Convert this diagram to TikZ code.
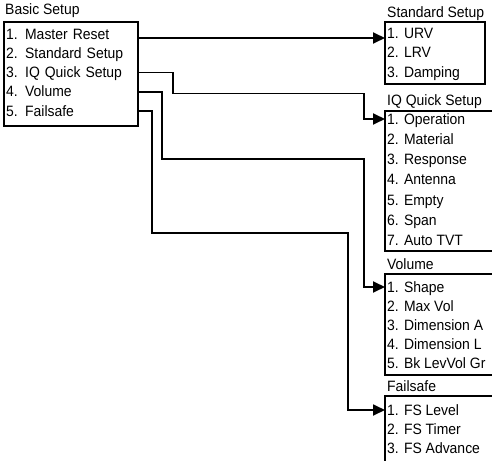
\documentclass[tikz,border=0pt]{standalone}
\usepackage{fontspec}
\setmainfont{Liberation Sans}[FakeStretch=0.93]
\usetikzlibrary{arrows.meta}
\begin{document}
\begin{tikzpicture}[x=1pt,y=1pt,
  every node/.style={font=\fontsize{15}{17}\selectfont},
  box/.style={draw=black, line width=1.8pt, inner sep=0pt},
  lrow/.style={text width=130pt, align=left, inner xsep=2pt, inner ysep=0pt, text height=10.5pt, text depth=0pt},
  rrow/.style={anchor=west, inner xsep=2pt, inner ysep=0pt, text height=10.5pt, text depth=0pt},
  ttl/.style={anchor=base west, inner sep=0pt},
  conn/.style={line width=1.8pt, -{Triangle[length=12pt,width=11pt]}},
]
\useasboundingbox (0,0) rectangle (492,-460);
\clip (0,0) rectangle (492,-460);

% Basic Setup
\node[ttl] (tbasic) at (5,-15) {Basic Setup};
\node[box, minimum width=134pt, minimum height=104pt] (basic) at (71,-74) {};
\node[lrow] (b1) at (71,-34) {1. Master Reset};
\node[lrow] (b2) at (71,-53.2) {2. Standard Setup};
\node[lrow] (b3) at (71,-72.4) {3. IQ Quick Setup};
\node[lrow] (b4) at (71,-91.6) {4. Volume};
\node[lrow] (b5) at (71,-110.8) {5. Failsafe};

% Standard Setup
\node[ttl] (tstd) at (387,-18) {Standard Setup};
\node[box, minimum width=100pt, minimum height=62pt] (std) at (435,-53) {};
\node[rrow] (s1) at (385,-33) {1. URV};
\node[rrow] (s2) at (385,-52.5) {2. LRV};
\node[rrow] (s3) at (385,-72) {3. Damping};

% IQ Quick Setup
\node[ttl] (tiq) at (387,-105) {IQ Quick Setup};
\node[box, minimum width=115pt, minimum height=140pt] (iq) at (442.5,-181) {};
\node[rrow] (i1) at (385,-119) {1. Operation};
\node[rrow] (i2) at (385,-139.2) {2. Material};
\node[rrow] (i3) at (385,-159.4) {3. Response};
\node[rrow] (i4) at (385,-179.6) {4. Antenna};
\node[rrow] (i5) at (385,-199.8) {5. Empty};
\node[rrow] (i6) at (385,-220) {6. Span};
\node[rrow] (i7) at (385,-240.2) {7. Auto TVT};

% Volume
\node[ttl] (tvol) at (387,-269) {Volume};
\node[box, minimum width=115pt, minimum height=101pt] (vol) at (442.5,-324.5) {};
\node[rrow] (v1) at (385,-287) {1. Shape};
\node[rrow] (v2) at (385,-306) {2. Max Vol};
\node[rrow] (v3) at (385,-325) {3. Dimension A};
\node[rrow] (v4) at (385,-344) {4. Dimension L};
\node[rrow] (v5) at (385,-363) {5. Bk LevVol Gr};

% Failsafe
\node[ttl] (tfs) at (387,-391) {Failsafe};
\node[box, minimum width=115pt, minimum height=80pt] (fs) at (442.5,-436) {};
\node[rrow] (f1) at (385,-410) {1. FS Level};
\node[rrow] (f2) at (385,-429) {2. FS Timer};
\node[rrow] (f3) at (385,-448) {3. FS Advance};

% Connectors
\draw[conn] ([yshift=-4pt]b1.east) -- ([yshift=-4pt]b1.east -| s1.west);
\draw[conn] (b3.east) -- ++(35,0) -- ++(0,-21) -| ([xshift=-21pt]i1.west) -- (i1.west);
\draw[conn] (b4.east) -- ++(24,0) -- ++(0,-67.5) -| ([xshift=-21pt]v1.west) -- (v1.west);
\draw[conn] (b5.east) -- ++(14,0) -- ++(0,-122) -| ([xshift=-37pt]f1.west) -- (f1.west);
\end{tikzpicture}
\end{document}
